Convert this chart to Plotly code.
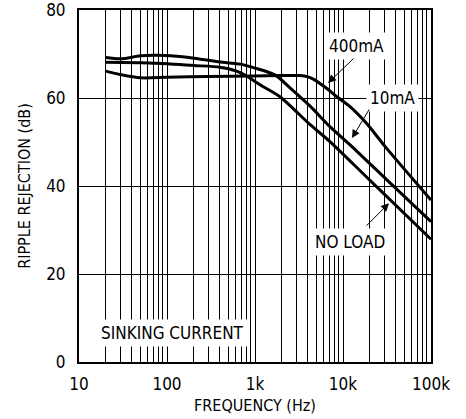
import plotly.graph_objects as go

# Data
freq_10ma = [20, 30, 50, 80, 150, 240, 400, 676, 1000, 1700, 2500, 4200, 7100, 12100, 30000, 100000]
db_10ma = [69.2, 68.9, 69.6, 69.7, 69.4, 68.8, 68.2, 67.7, 66.8, 65.2, 62.3, 58.2, 53.5, 49.3, 41.8, 31.9]

freq_noload = [20, 50, 100, 200, 400, 600, 800, 1140, 1920, 4200, 7100, 20000, 100000]
db_noload = [68.1, 68.0, 67.8, 67.4, 67.0, 66.2, 65.0, 63.0, 60.3, 54.0, 50.1, 41.4, 27.9]

freq_400ma = [20, 30, 50, 100, 300, 1000, 2000, 3240, 4000, 4600, 6500, 8500, 12100, 18600, 30000, 100000]
db_400ma = [66.1, 65.3, 64.6, 64.7, 64.9, 65.0, 65.1, 65.1, 64.8, 64.3, 62.2, 60.3, 58.0, 54.2, 49.0, 36.8]

x_tickvals = [10, 100, 1000, 10000, 100000]
x_ticktext = ["10", "100", "1k", "10k", "100k"]
y_tickvals = [0, 20, 40, 60, 80]
minor_vals = [m * d for d in (10, 100, 1000, 10000) for m in range(2, 10)]

FONT = "DejaVu Sans Condensed, Liberation Sans, Arial, sans-serif"

fig = go.Figure()
for fx, fy, name in [(freq_10ma, db_10ma, "10mA"),
                     (freq_noload, db_noload, "NO LOAD"),
                     (freq_400ma, db_400ma, "400mA")]:
    fig.add_trace(go.Scatter(x=fx, y=fy, mode="lines", name=name,
                             line=dict(color="black", width=3, shape="spline", smoothing=0.8)))

fig.update_layout(
    width=466, height=419,
    margin=dict(l=79, r=35, t=10, b=57, autoexpand=False),
    paper_bgcolor="white", plot_bgcolor="white",
    showlegend=False,
    font=dict(family=FONT, size=17, color="black"),
)

fig.update_xaxes(
    type="log", range=[1, 5], automargin=False,
    tickvals=x_tickvals, ticktext=x_ticktext,
    showgrid=True, gridcolor="black", gridwidth=1,
    minor=dict(tickvals=minor_vals, showgrid=True, gridcolor="black", gridwidth=1),
    showline=True, linecolor="black", linewidth=2, mirror=True,
    ticks="", ticklabelstandoff=6, ticklabeloverflow="allow",
    tickfont=dict(size=17),
    title=dict(text="FREQUENCY (Hz)", font=dict(size=16), standoff=6),
    zeroline=False,
)
fig.update_yaxes(
    range=[0, 80], automargin=False, tickvals=y_tickvals,
    showgrid=True, gridcolor="black", gridwidth=1,
    showline=True, linecolor="black", linewidth=2, mirror=True,
    ticks="", ticklabelstandoff=8, ticklabeloverflow="allow",
    tickfont=dict(size=17),
    title=dict(text="RIPPLE REJECTION (dB)", font=dict(size=16), standoff=12),
    zeroline=False,
)

# Text labels with white background
labels = [
    ("400mA", 4.159, 71.9),
    ("10mA", 4.557, 60.1),
    ("NO LOAD", 4.074, 27.2),
    ("SINKING CURRENT", 2.057, 6.6),
]
for txt, lx, ly in labels:
    fig.add_annotation(x=lx, y=ly, xref="x", yref="y", text=txt, showarrow=False,
                       bgcolor="white", borderpad=3, font=dict(size=17))

# Arrows (tip in data coords, tail offset in pixels)
arrows = [
    (3.830, 63.4, 27, -26),
    (4.102, 50.9, 18, -30),
    (4.523, 36.1, -24, 24),
]
for tx, ty, axo, ayo in arrows:
    fig.add_annotation(x=tx, y=ty, xref="x", yref="y", text="", showarrow=True,
                       ax=axo, ay=ayo, arrowhead=2, arrowsize=1.6, arrowwidth=1,
                       arrowcolor="black")

fig.write_html("out.html")
